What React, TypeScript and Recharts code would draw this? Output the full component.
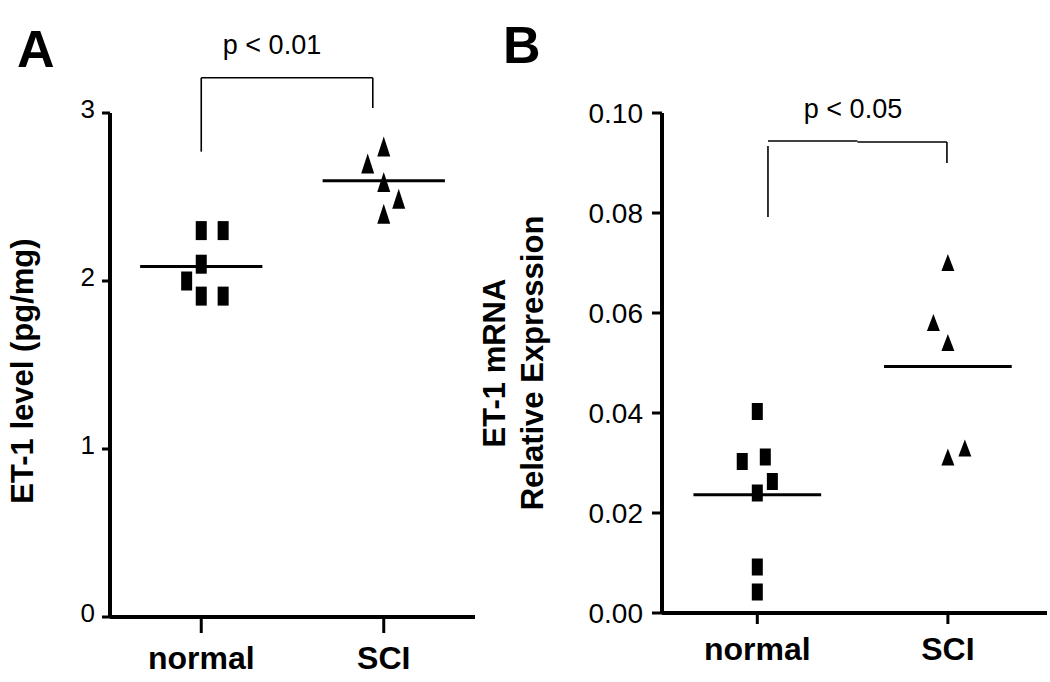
import { ScatterChart, Scatter, XAxis, YAxis, ReferenceLine } from "recharts"

const FONT = '"Liberation Sans", Arial, Helvetica, sans-serif'

const groups = ["normal", "SCI"]

// A: ET-1 level (pg/mg)
const levelNormal = [2.3, 2.3, 2.1, 2.0, 1.91, 1.91]
const levelNormalJitter = [0, 0.12, 0, -0.08, 0, 0.12]
const levelSci = [2.8, 2.7, 2.59, 2.49, 2.4]
const levelSciJitter = [0, -0.088, 0, 0.082, 0]
const levelTicks = [0, 1, 2, 3]

// B: ET-1 mRNA relative expression
const mrnaNormal = [0.0403, 0.0303, 0.0312, 0.0263, 0.024, 0.0092, 0.0042]
const mrnaNormalJitter = [0, -0.079, 0.042, 0.079, 0, 0, 0]
const mrnaSci = [0.0701, 0.0581, 0.0541, 0.0312, 0.033]
const mrnaSciJitter = [0, -0.076, 0, 0, 0.089]
const mrnaTicks = [0, 0.02, 0.04, 0.06, 0.08, 0.1]

// significance brackets: left x, right x, top y, left foot y, right foot y
const bracketA = [1.0, 1.94, 3.21, 2.77, 3.03]
const bracketB = [1.056, 1.995, 0.0943, 0.0792, 0.09]

const MEAN_HALF = 0.335

const toPoints = (vals: number[], jitter: number[], group: number) =>
  vals.map((v, i) => ({ x: group + 1 + jitter[i], y: v }))

const mean = (vals: number[]) => vals.reduce((a, b) => a + b, 0) / vals.length

const box = (w: number, h: number) => (p: any) => (
  <rect x={p.cx - w / 2} y={p.cy - h / 2} width={w} height={h} fill="#000" />
)

const tri = (w: number, h: number) => (p: any) => (
  <polygon
    points={`${p.cx},${p.cy - h / 2} ${p.cx + w / 2},${p.cy + h / 2} ${p.cx - w / 2},${p.cy + h / 2}`}
    fill="#000"
  />
)

function YLabel({ viewBox, lines, baseX, shift }: any) {
  const cy = (viewBox?.y ?? 113) + (viewBox?.height ?? 504) / 2 + shift
  return (
    <g>
      {lines.map((t: string, i: number) => {
        const x = baseX + i * 38
        return (
          <text
            key={t}
            x={x}
            y={cy}
            transform={`rotate(-90, ${x}, ${cy})`}
            textAnchor="middle"
            fontFamily={FONT}
            fontWeight="bold"
            fontSize={31}
            fill="#000"
          >
            {t}
          </text>
        )
      })}
    </g>
  )
}

function MeanLine({ group, value }: { group: number; value: number }) {
  return (
    <ReferenceLine
      segment={[
        { x: group + 1 - MEAN_HALF, y: value },
        { x: group + 1 + MEAN_HALF, y: value },
      ]}
      stroke="#000"
      strokeWidth={3}
      ifOverflow="visible"
    />
  )
}

const axisLine = { stroke: "#000", strokeWidth: 4 }
const tickLine = { stroke: "#000", strokeWidth: 3 }
const xTick = { fontSize: 32, fontWeight: "bold", fill: "#000", fontFamily: FONT }

export default function App() {
  const [bx1, bx2, btop, bl, br] = bracketA
  const [cx1, cx2, ctop, cl, cr] = bracketB
  return (
    <div style={{ position: "absolute", left: 0, top: 0, width: 1050, height: 682, background: "#fff" }}>
      <div style={{ position: "absolute", left: 0, top: 0 }}>
        <ScatterChart width={476} height={682} margin={{ top: 113, right: 1, bottom: 0, left: 0 }}>
          <XAxis
            type="number"
            dataKey="x"
            domain={[0.5, 2.5]}
            ticks={[1, 2]}
            interval={0}
            height={65}
            tickFormatter={(v) => groups[v - 1]}
            axisLine={axisLine}
            tickLine={tickLine}
            tickSize={16}
            tickMargin={13}
            tick={xTick}
          />
          <YAxis
            type="number"
            dataKey="y"
            domain={[0, 3]}
            ticks={levelTicks}
            interval={0}
            width={110}
            axisLine={axisLine}
            tickLine={tickLine}
            tickSize={8}
            tickMargin={7}
            tick={{ fontSize: 26, fill: "#000", fontFamily: FONT, dy: -4 }}
            label={(props: any) => (
              <YLabel viewBox={props.viewBox} lines={["ET-1 level (pg/mg)"]} baseX={33} shift={6} />
            )}
          />
          <Scatter
            data={toPoints(levelNormal, levelNormalJitter, 0)}
            shape={box(11, 19)}
            isAnimationActive={false}
          />
          <Scatter
            data={toPoints(levelSci, levelSciJitter, 1)}
            shape={tri(13, 20)}
            isAnimationActive={false}
          />
          {MeanLine({ group: 0, value: mean(levelNormal) })}
          {MeanLine({ group: 1, value: mean(levelSci) })}
          <ReferenceLine segment={[{ x: bx1, y: bl }, { x: bx1, y: btop }]} stroke="#000" strokeWidth={1.6} ifOverflow="visible" />
          <ReferenceLine segment={[{ x: bx1, y: btop }, { x: bx2, y: btop }]} stroke="#000" strokeWidth={1.6} ifOverflow="visible" />
          <ReferenceLine segment={[{ x: bx2, y: btop }, { x: bx2, y: br }]} stroke="#000" strokeWidth={1.6} ifOverflow="visible" />
        </ScatterChart>
      </div>
      <div style={{ position: "absolute", left: 460, top: 0 }}>
        <ScatterChart width={590} height={682} margin={{ top: 113, right: 3, bottom: 0, left: 0 }}>
          <XAxis
            type="number"
            dataKey="x"
            domain={[0.5, 2.52]}
            ticks={[1, 2]}
            interval={0}
            height={69}
            tickFormatter={(v) => groups[v - 1]}
            axisLine={axisLine}
            tickLine={tickLine}
            tickSize={11}
            tickMargin={13}
            tick={xTick}
          />
          <YAxis
            type="number"
            dataKey="y"
            domain={[0, 0.1]}
            ticks={mrnaTicks}
            interval={0}
            width={202}
            axisLine={axisLine}
            tickLine={tickLine}
            tickSize={10}
            tickMargin={9}
            tickFormatter={(v) => v.toFixed(2)}
            tick={{ fontSize: 28, fill: "#000", fontFamily: FONT }}
            label={(props: any) => (
              <YLabel viewBox={props.viewBox} lines={["ET-1 mRNA", "Relative Expression"]} baseX={45} shift={0} />
            )}
          />
          <Scatter
            data={toPoints(mrnaNormal, mrnaNormalJitter, 0)}
            shape={box(11, 17)}
            isAnimationActive={false}
          />
          <Scatter
            data={toPoints(mrnaSci, mrnaSciJitter, 1)}
            shape={tri(13, 17)}
            isAnimationActive={false}
          />
          {MeanLine({ group: 0, value: mean(mrnaNormal) })}
          {MeanLine({ group: 1, value: mean(mrnaSci) })}
          <ReferenceLine segment={[{ x: cx1, y: cl }, { x: cx1, y: ctop - 0.0009 }]} stroke="#000" strokeWidth={1.6} ifOverflow="visible" />
          <ReferenceLine segment={[{ x: cx1, y: ctop + 0.0001 }, { x: (cx1 + cx2) / 2, y: ctop + 0.0001 }]} stroke="#000" strokeWidth={1.6} ifOverflow="visible" />
          <ReferenceLine segment={[{ x: (cx1 + cx2) / 2, y: ctop - 0.0001 }, { x: cx2, y: ctop - 0.0001 }]} stroke="#000" strokeWidth={1.6} ifOverflow="visible" />
          <ReferenceLine segment={[{ x: cx2, y: ctop - 0.0001 }, { x: cx2, y: cr }]} stroke="#000" strokeWidth={1.6} ifOverflow="visible" />
        </ScatterChart>
      </div>
      <svg
        width={1050}
        height={682}
        style={{ position: "absolute", left: 0, top: 0, pointerEvents: "none" }}
        fontFamily={FONT}
      >
        <text x={17} y={67} fontSize={52} fontWeight="bold" fill="#000">A</text>
        <text x={503} y={63} fontSize={52} fontWeight="bold" fill="#000">B</text>
        <text x={272} y={54} fontSize={27} textAnchor="middle" fill="#000">p &lt; 0.01</text>
        <text x={853} y={118} fontSize={27} textAnchor="middle" fill="#000">p &lt; 0.05</text>
      </svg>
    </div>
  )
}
